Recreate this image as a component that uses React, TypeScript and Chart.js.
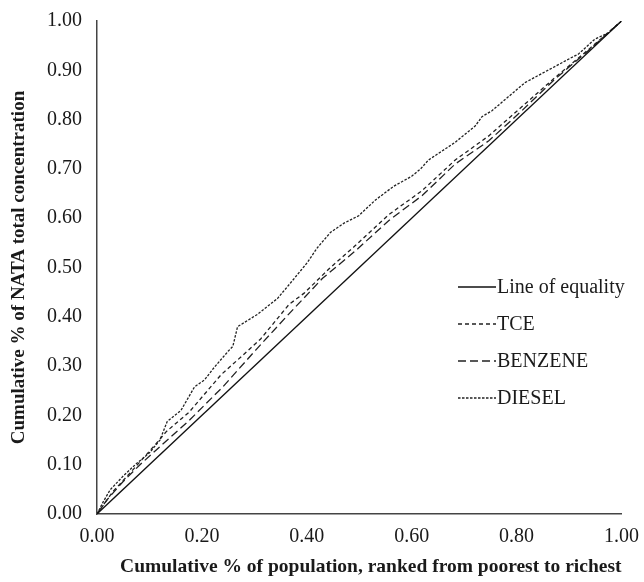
import React, { useEffect, useRef } from "react";
import { Chart, registerables } from "chart.js";

Chart.register(...registerables);

const equalityX = [0, 1];
const equalityY = [0, 1];

const tceX = [0, 0.03, 0.068, 0.113, 0.132, 0.176, 0.237, 0.278, 0.312, 0.366, 0.395, 0.442, 0.493, 0.556, 0.62, 0.683, 0.747, 0.81, 0.873, 0.937, 1];
const tceY = [0, 0.045, 0.089, 0.143, 0.167, 0.207, 0.283, 0.322, 0.355, 0.425, 0.448, 0.497, 0.545, 0.607, 0.656, 0.718, 0.767, 0.826, 0.885, 0.942, 1];

const benzeneX = [0, 0.02, 0.049, 0.08, 0.113, 0.176, 0.24, 0.303, 0.366, 0.43, 0.493, 0.556, 0.62, 0.683, 0.747, 0.81, 0.873, 0.937, 1];
const benzeneY = [0, 0.03, 0.065, 0.098, 0.13, 0.19, 0.258, 0.333, 0.406, 0.478, 0.534, 0.595, 0.646, 0.71, 0.757, 0.818, 0.882, 0.94, 1];

const dieselX = [0, 0.012, 0.025, 0.05, 0.076, 0.1, 0.12, 0.134, 0.16, 0.186, 0.205, 0.224, 0.25, 0.259, 0.268, 0.306, 0.344, 0.37, 0.401, 0.42, 0.445, 0.471, 0.499, 0.531, 0.566, 0.6, 0.617, 0.632, 0.683, 0.721, 0.734, 0.753, 0.816, 0.905, 0.918, 0.949, 0.975, 1];
const dieselY = [0, 0.025, 0.049, 0.077, 0.103, 0.124, 0.15, 0.188, 0.21, 0.258, 0.272, 0.298, 0.33, 0.34, 0.38, 0.405, 0.437, 0.47, 0.51, 0.54, 0.571, 0.59, 0.605, 0.637, 0.665, 0.685, 0.7, 0.718, 0.754, 0.787, 0.806, 0.818, 0.875, 0.926, 0.933, 0.963, 0.976, 1];

const seriesNames = ["Line of equality", "TCE", "BENZENE", "DIESEL"];
const tickValues = [0, 0.1, 0.2, 0.3, 0.4, 0.5, 0.6, 0.7, 0.8, 0.9, 1.0];

const xTitle = "Cumulative % of population, ranked from poorest to richest";
const yTitle = "Cumulative % of NATA total concentration";

const FONT = "'Liberation Serif', 'Times New Roman', serif";
const INK = "#1a1a1a";
const dashes = [[], [4, 3], [8, 4], [2.5, 1.5]];

function toPoints(xs: number[], ys: number[]) {
  return xs.map((x, i) => ({ x, y: ys[i] }));
}

const legendPlugin = {
  id: "insideLegend",
  afterDraw(chart: any) {
    const ctx = chart.ctx;
    const rows = [287, 324, 361, 398];
    ctx.save();
    chart.data.datasets.forEach((ds: any, i: number) => {
      const y = rows[i];
      ctx.beginPath();
      ctx.setLineDash(dashes[i]);
      ctx.lineWidth = 1.3;
      ctx.strokeStyle = ds.borderColor;
      ctx.moveTo(458, y);
      ctx.lineTo(496, y);
      ctx.stroke();
      ctx.setLineDash([]);
      ctx.fillStyle = INK;
      ctx.font = `20px ${FONT}`;
      ctx.textBaseline = "middle";
      ctx.textAlign = "left";
      ctx.fillText(ds.label, 497, y + 1);
    });
    ctx.restore();
  },
};

export default function App() {
  const ref = useRef<HTMLCanvasElement | null>(null);

  useEffect(() => {
    if (!ref.current) return;
    const mk = (label: string, xs: number[], ys: number[], i: number) => ({
      label,
      data: toPoints(xs, ys),
      showLine: true,
      borderColor: i === 0 ? "#111" : "#222",
      backgroundColor: "transparent",
      borderWidth: 1.3,
      borderDash: dashes[i],
      pointRadius: 0,
      tension: 0,
      fill: false,
    });
    const chart = new Chart(ref.current, {
      type: "scatter",
      data: {
        datasets: [
          mk(seriesNames[0], equalityX, equalityY, 0),
          mk(seriesNames[1], tceX, tceY, 1),
          mk(seriesNames[2], benzeneX, benzeneY, 2),
          mk(seriesNames[3], dieselX, dieselY, 3),
        ],
      },
      plugins: [legendPlugin],
      options: {
        responsive: false,
        animation: false,
        layout: { padding: { left: 0, right: 20, top: 20, bottom: 0 } },
        plugins: { legend: { display: false }, tooltip: { enabled: false } },
        scales: {
          x: {
            type: "linear",
            min: 0,
            max: 1,
            afterFit: (s: any) => { s.height = 68; },
            afterBuildTicks: (s: any) => { s.ticks = tickValues.filter((_, i) => i % 2 === 0).map((v) => ({ value: v })); },
            grid: { display: false, drawTicks: true, tickLength: 6, tickColor: "#444", tickWidth: 1.2 },
            border: { display: true, color: "#444", width: 1.5 },
            ticks: {
              color: INK,
              padding: 5,
              maxRotation: 0,
              autoSkip: false,
              font: { family: FONT, size: 20 },
              callback: (v: any) => Number(v).toFixed(2),
            },
            title: {
              display: true,
              text: xTitle,
              align: "end",
              color: INK,
              font: { family: FONT, size: 19.5, weight: "bold" },
              padding: { top: 0, bottom: 3 },
            },
          },
          y: {
            type: "linear",
            min: 0,
            max: 1,
            afterFit: (s: any) => { s.width = 97; },
            afterBuildTicks: (s: any) => { s.ticks = tickValues.map((v) => ({ value: v })); },
            grid: { display: false, drawTicks: true, tickLength: 6, tickColor: "#444", tickWidth: 1.2 },
            border: { display: true, color: "#444", width: 1.5 },
            ticks: {
              color: INK,
              padding: 9,
              autoSkip: false,
              font: { family: FONT, size: 20 },
              callback: (v: any) => Number(v).toFixed(2),
            },
            title: {
              display: true,
              text: yTitle,
              color: INK,
              font: { family: FONT, size: 19, weight: "bold" },
              padding: { top: 8, bottom: 0 },
            },
          },
        },
      },
    });
    return () => chart.destroy();
  }, []);

  return (
    <div style={{ position: "absolute", left: 0, top: 0, width: 644, height: 582, background: "#fff" }}>
      <canvas ref={ref} width={644} height={582} style={{ width: 644, height: 582, display: "block" }} />
    </div>
  );
}
